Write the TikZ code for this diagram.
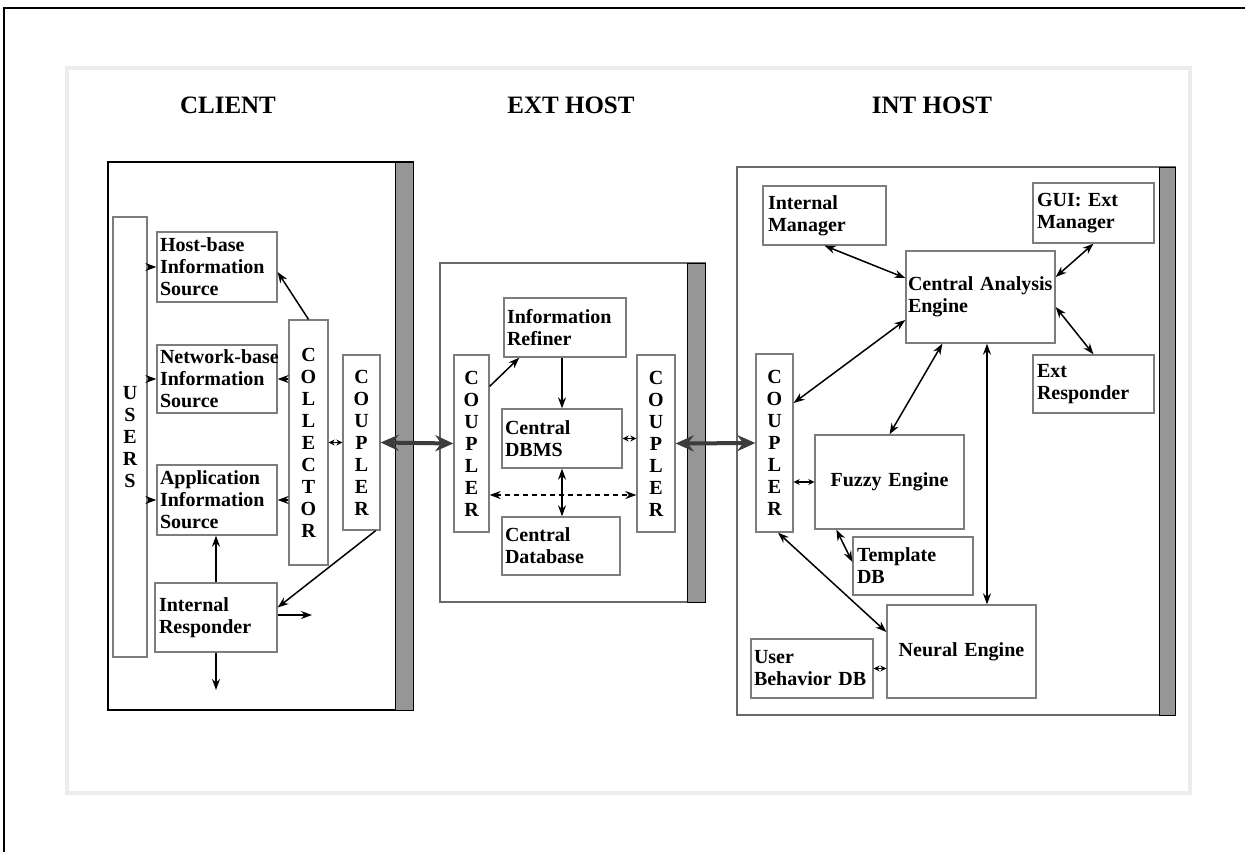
\documentclass[tikz,border=0pt]{standalone}
\usepackage{fontspec}
\setmainfont{Liberation Serif}
\usetikzlibrary{arrows.meta,calc}
\definecolor{boxc}{RGB}{125,125,125}
\definecolor{panelc}{RGB}{105,105,105}
\definecolor{barc}{RGB}{150,150,150}
\definecolor{bigc}{RGB}{60,60,60}
\definecolor{lightc}{RGB}{236,236,236}
\tikzset{
  box/.style={draw=boxc, line width=1.3pt, fill=white, inner xsep=3pt, inner ysep=0pt, align=left, font=\bfseries\fontsize{20}{22}\selectfont},
  vbox/.style={draw=boxc, line width=1.3pt, fill=white, inner sep=0pt, align=center, font=\bfseries\fontsize{20}{22}\selectfont},
  panel/.style={draw=panelc, line width=1.4pt, fill=white, inner sep=0pt},
  bar/.style={draw=black, line width=0.8pt, fill=barc, inner sep=0pt},
  arr/.style={line width=1.5pt, -{Stealth[length=11pt,width=8pt]}},
  darr/.style={line width=1.5pt, {Stealth[length=11pt,width=8pt]}-{Stealth[length=11pt,width=8pt]}},
  sarr/.style={line width=1.3pt, {Stealth[length=6pt,width=6pt]}-{Stealth[length=6pt,width=6pt]}},
  big/.style={line width=4pt, draw=bigc, {Stealth[length=18pt,width=16pt]}-{Stealth[length=18pt,width=16pt]}},
  title/.style={font=\bfseries\fontsize{25}{27}\selectfont}
}
\begin{document}
\begin{tikzpicture}[x=1pt,y=-1pt]
\useasboundingbox (0,0) rectangle (1245,852);
% outer frame
\draw[line width=2.5pt] (4,852) -- (4,8) -- (1245,8);
\draw[lightc, line width=4pt] (67,68) rectangle (1190,793);
% titles
\node[title] (tclient) at (228,105) {CLIENT};
\node[title] (text) at (571,105) {EXT HOST};
\node[title] (tint) at (932,105) {INT HOST};
% ---------------- CLIENT ----------------
\node[panel, draw=black, line width=2.5pt, minimum width=305pt, minimum height=548pt] (clientp) at (260.5,436) {};
\node[bar, minimum width=18pt, minimum height=548pt] (clientbar) at (404,436) {};
\node[vbox, minimum width=34pt, minimum height=440pt] (users) at (130,437) {U\\S\\E\\R\\S};
\node[box, minimum width=120pt, text width=114pt, minimum height=70pt] (hb) at (217,267) {Host-base\\Information\\Source};
\node[box, minimum width=120pt, text width=114pt, minimum height=68pt] (nb) at (217,379) {\mbox{Network-base}\\Information\\Source};
\node[box, minimum width=120pt, text width=114pt, minimum height=70pt] (ap) at (217,500) {Application\\Information\\Source};
\node[vbox, minimum width=39pt, minimum height=245pt] (col) at (308.5,442.5) {C\\O\\L\\L\\E\\C\\T\\O\\R};
\node[vbox, minimum width=37pt, minimum height=175pt] (cpc) at (361.5,442.5) {C\\O\\U\\P\\L\\E\\R};
\node[box, minimum width=122pt, text width=114pt, minimum height=69pt, inner xsep=4pt] (ir) at (216,617.5) {Internal\\Responder};
\coordinate (irout) at (312,615);
\coordinate (irdown) at (216,690);
\draw[arr] (users.east |- hb.west) -- (hb.west);
\draw[arr] (users.east |- nb.west) -- (nb.west);
\draw[arr] (users.east |- ap.west) -- (ap.west);
\draw[arr] (col.north) -- ([yshift=-5pt]hb.east);
\draw[arr] (col.west |- nb.east) -- (nb.east);
\draw[arr] (col.west |- ap.east) -- (ap.east);
\draw[sarr] (col.east) -- (cpc.west);
\draw[arr] ([xshift=-5pt]cpc.south east) -- ([yshift=10pt]ir.east);
\draw[arr] (ir.north) -- (ir.north |- ap.south);
\draw[arr] (ir.east |- irout) -- (irout);
\draw[arr] (ir.south) -- (irdown);
% ---------------- EXT HOST ----------------
\node[panel, minimum width=265pt, minimum height=339pt] (extp) at (572.5,432.5) {};
\node[bar, minimum width=18pt, minimum height=339pt] (extbar) at (696,432.5) {};
\node[box, minimum width=122pt, text width=116pt, minimum height=59pt] (ir2) at (565,327.5) {Information\\Refiner};
\node[vbox, minimum width=35pt, minimum height=177pt] (cpl) at (471.5,443.5) {C\\O\\U\\P\\L\\E\\R};
\node[box, minimum width=120pt, text width=114pt, minimum height=59pt] (dbms) at (562,438.5) {Central\\DBMS};
\node[vbox, minimum width=38pt, minimum height=177pt] (cpr) at (656,443.5) {C\\O\\U\\P\\L\\E\\R};
\node[box, minimum width=118pt, text width=112pt, minimum height=58pt] (cdb) at (561,546) {Central\\Database};
\coordinate (dashy) at (563,495);
\draw[arr] ([yshift=-32pt]cpl.north east) -- ([xshift=16pt]ir2.south west);
\draw[arr] (dbms.north |- ir2.south) -- (dbms.north);
\draw[sarr] (dbms.east) -- (cpr.west |- dbms.east);
\draw[darr] (dbms.south) -- (dbms.south |- cdb.north);
\draw[darr, dash pattern=on 5pt off 4pt] (cpl.east |- dashy) -- (cpr.west |- dashy);
% ---------------- INT HOST ----------------
\node[panel, minimum width=438pt, minimum height=548pt] (intp) at (956,441) {};
\node[bar, minimum width=16pt, minimum height=548pt] (intbar) at (1167,441) {};
\node[box, minimum width=123pt, text width=113pt, minimum height=59pt, inner xsep=5pt] (im) at (824.5,215.5) {Internal\\Manager};
\node[box, minimum width=121pt, text width=113pt, minimum height=60pt, inner xsep=4pt] (gui) at (1093.5,213) {GUI: Ext\\Manager};
\node[box, minimum width=149pt, text width=145pt, minimum height=92pt, inner xsep=2pt] (cae) at (980.5,297) {\mbox{Central Analysis}\\Engine};
\node[box, minimum width=121pt, text width=113pt, minimum height=58pt, inner xsep=4pt] (er) at (1093.5,384) {Ext\\Responder};
\node[vbox, minimum width=37pt, minimum height=178pt] (cpi) at (774.5,443) {C\\O\\U\\P\\L\\E\\R};
\node[box, align=center, minimum width=149pt, text width=143pt, minimum height=94pt] (fz) at (889.5,482) {Fuzzy Engine};
\node[box, minimum width=120pt, text width=112pt, minimum height=58pt, inner xsep=4pt] (tdb) at (913,566) {Template\\DB};
\node[box, align=center, minimum width=149pt, text width=143pt, minimum height=93pt] (ne) at (961.5,651.5) {Neural Engine};
\node[box, minimum width=122pt, text width=116pt, minimum height=59pt] (ub) at (812,668.5) {User\\\mbox{Behavior DB}};
\draw[darr] (im.south) -- ([yshift=19pt]cae.west);
\draw[darr] (gui.south) -- ([yshift=20pt]cae.east);
\draw[darr] (er.north) -- ([yshift=-10pt]cae.east);
\draw[darr] ([yshift=40pt]cpi.east) -- ([yshift=-23pt]cae.west);
\draw[darr] ([xshift=37pt]cae.south west) -- (fz.north);
\draw[darr] ([xshift=6.5pt]cae.south) -- ([xshift=25.5pt]ne.north);
\draw[sarr] (cpi.east |- fz.west) -- (fz.west);
\draw[darr] ([xshift=22pt]fz.south west) -- ([yshift=4pt]tdb.west);
\draw[darr] ([xshift=3.5pt]cpi.south) -- ([yshift=19.5pt]ne.west);
\draw[sarr] (ub.east) -- (ne.west |- ub.east);
% ---------------- big links ----------------
\draw[big] (cpc.east) -- (cpl.west);
\draw[big] (cpr.east) -- (cpi.west);
\end{tikzpicture}
\end{document}
